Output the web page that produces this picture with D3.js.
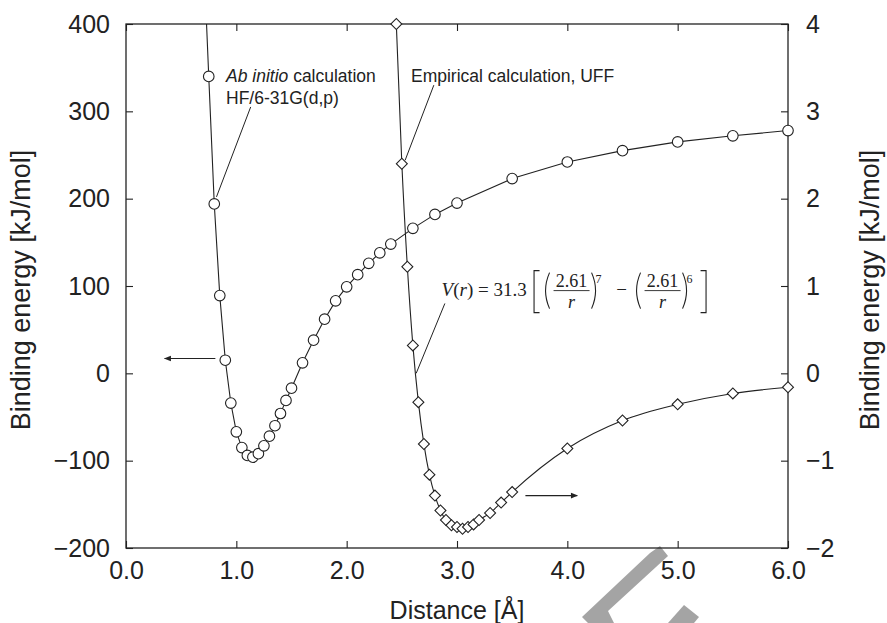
<!DOCTYPE html>
<html>
<head>
<meta charset="utf-8">
<script src="https://cdn.jsdelivr.net/npm/d3@7"></script>
<style>
  body { margin: 0; background: #fff; }
  svg { display: block; }
</style>
</head>
<body>
<div id="chart"></div>
<script>
// ab initio HF/6-31G(d,p), left axis [kJ/mol]
const abDist = [0.75, 0.80, 0.85, 0.90, 0.95, 1.00, 1.05, 1.10, 1.15, 1.20, 1.25, 1.30, 1.35, 1.40, 1.45,
  1.50, 1.60, 1.70, 1.80, 1.90, 2.00, 2.10, 2.20, 2.30, 2.40, 2.60, 2.80, 3.00, 3.50, 4.00, 4.50, 5.00, 5.50, 6.00];
const abEnergy = [340, 194, 89, 15, -34, -67, -85, -94, -96, -92, -83, -72, -60, -46, -31,
  -17, 12, 38, 62, 83, 99, 113, 126, 138, 148, 166, 182, 195, 223, 242, 255, 265, 272, 278];
// the ab initio line keeps going up past the first marker to the frame
const abLineLead = [0.73, 400];

// empirical UFF, right axis [kJ/mol]
const uffDist = [2.45, 2.50, 2.55, 2.60, 2.65, 2.70, 2.75, 2.80, 2.85, 2.90, 2.95, 3.00, 3.05, 3.10,
  3.15, 3.20, 3.30, 3.40, 3.50, 4.00, 4.50, 5.00, 5.50, 6.00];
const uffEnergy = [4.00, 2.40, 1.22, 0.32, -0.33, -0.81, -1.16, -1.40, -1.57, -1.68, -1.74, -1.76, -1.78, -1.76,
  -1.73, -1.68, -1.60, -1.48, -1.36, -0.86, -0.54, -0.355, -0.23, -0.16];

const xTicks = [0, 1, 2, 3, 4, 5, 6];
const leftTicks = [-200, -100, 0, 100, 200, 300, 400];
const rightTicks = [-2, -1, 0, 1, 2, 3, 4];

const width = 887, height = 623;
const margin = {top: 24, right: 99, bottom: 75, left: 126};
const ink = '#222';
const sans = 'Liberation Sans, Arial, Helvetica, sans-serif';
const serif = 'Liberation Serif, Times New Roman, serif';

const svg = d3.select('#chart').append('svg')
    .attr('width', width)
    .attr('height', height);

const x = d3.scaleLinear().domain([0, 6]).range([margin.left, width - margin.right]);
const yL = d3.scaleLinear().domain([-200, 400]).range([height - margin.bottom, margin.top]);
const yR = d3.scaleLinear().domain([-2, 4]).range([height - margin.bottom, margin.top]);

// watermark behind everything (bottom, grey chevron)
svg.append('g').attr('fill', '#a4a4a4')
  .selectAll('path')
  .data([
    'M650,553 L660,546 L668,556 L608,611 L614,623 L588,623 L582,617 Z',
    'M684,605 L699,617 L694,623 L668,623 Z'
  ])
  .join('path')
    .attr('d', d => d);

// ticks (inward) and labels
function styleAxis(g, size) {
  g.select('.domain').remove();
  g.selectAll('.tick line').attr('stroke', ink).attr('stroke-width', 1.1);
  g.selectAll('.tick text').attr('font-family', sans).attr('font-size', size).attr('fill', ink);
}

svg.append('g')
    .attr('transform', `translate(0,${height - margin.bottom})`)
    .call(d3.axisBottom(x).tickValues(xTicks).tickFormat(d3.format('.1f')).tickSize(-7).tickPadding(13))
    .call(g => styleAxis(g, 25));

svg.append('g')
    .attr('transform', `translate(0,${margin.top})`)
    .call(d3.axisTop(x).tickValues(xTicks).tickFormat('').tickSize(-7))
    .call(g => styleAxis(g, 25));

svg.append('g')
    .attr('transform', `translate(${margin.left},0)`)
    .call(d3.axisLeft(yL).tickValues(leftTicks).tickFormat(d3.format('d')).tickSize(-7).tickPadding(16))
    .call(g => styleAxis(g, 25));

svg.append('g')
    .attr('transform', `translate(${width - margin.right},0)`)
    .call(d3.axisRight(yR).tickValues(rightTicks).tickFormat(d3.format('d')).tickSize(-7).tickPadding(18))
    .call(g => styleAxis(g, 25));

// frame
svg.append('rect')
    .attr('x', margin.left).attr('y', margin.top)
    .attr('width', width - margin.left - margin.right)
    .attr('height', height - margin.top - margin.bottom)
    .attr('fill', 'none').attr('stroke', ink).attr('stroke-width', 1.3);

// axis titles
svg.append('text')
    .attr('x', (margin.left + width - margin.right) / 2).attr('y', 619)
    .attr('text-anchor', 'middle')
    .attr('font-family', sans).attr('font-size', 25).attr('fill', ink)
    .text('Distance [Å]');

svg.append('text')
    .attr('transform', 'translate(30,290) rotate(-90)')
    .attr('text-anchor', 'middle')
    .attr('font-family', sans).attr('font-size', 27).attr('fill', ink)
    .text('Binding energy [kJ/mol]');

svg.append('text')
    .attr('transform', 'translate(879,290) rotate(-90)')
    .attr('text-anchor', 'middle')
    .attr('font-family', sans).attr('font-size', 27).attr('fill', ink)
    .text('Binding energy [kJ/mol]');

// data
const abPts = abDist.map((d, i) => ({x: d, y: abEnergy[i]}));
const uffPts = uffDist.map((d, i) => ({x: d, y: uffEnergy[i]}));

const plot = svg.append('g');

plot.append('path')
    .datum([{x: abLineLead[0], y: abLineLead[1]}, ...abPts])
    .attr('fill', 'none').attr('stroke', ink).attr('stroke-width', 1.1)
    .attr('d', d3.line().x(d => x(d.x)).y(d => yL(d.y)));

plot.append('path')
    .datum(uffPts)
    .attr('fill', 'none').attr('stroke', ink).attr('stroke-width', 1.1)
    .attr('d', d3.line().curve(d3.curveMonotoneX).x(d => x(d.x)).y(d => yR(d.y)));

// pointer lines from labels to curves
const pointers = [
  [x(1.13), yL(305), x(0.82), yL(202)],
  [x(2.79), yR(3.30), x(2.53), yR(2.44)],
  [x(2.89), yR(0.80), x(2.63), yR(0.0)]
];
plot.selectAll('line.pointer')
  .data(pointers)
  .join('line')
    .attr('class', 'pointer')
    .attr('x1', d => d[0]).attr('y1', d => d[1])
    .attr('x2', d => d[2]).attr('y2', d => d[3])
    .attr('stroke', ink).attr('stroke-width', 1);

plot.selectAll('circle.ab')
  .data(abPts)
  .join('circle')
    .attr('class', 'ab')
    .attr('cx', d => x(d.x)).attr('cy', d => yL(d.y))
    .attr('r', 5.3)
    .attr('fill', '#fff').attr('stroke', ink).attr('stroke-width', 1.1);

const diamond = d3.symbol().type(d3.symbolSquare).size(60);
plot.selectAll('path.uff')
  .data(uffPts)
  .join('path')
    .attr('class', 'uff')
    .attr('transform', d => `translate(${x(d.x)},${yR(d.y)}) rotate(45)`)
    .attr('d', diamond)
    .attr('fill', '#fff').attr('stroke', ink).attr('stroke-width', 1.1);

// arrows telling which axis goes with which curve
svg.append('defs').append('marker')
    .attr('id', 'head')
    .attr('viewBox', '0 0 10 10')
    .attr('refX', 9).attr('refY', 5)
    .attr('markerWidth', 9).attr('markerHeight', 7)
    .attr('markerUnits', 'userSpaceOnUse')
    .attr('orient', 'auto')
  .append('path')
    .attr('d', 'M0,1 L10,5 L0,9 Z')
    .attr('fill', ink);

const arrows = [
  [x(0.81), yL(17), x(0.35), yL(17)],
  [x(3.62), yR(-1.40), x(4.09), yR(-1.40)]
];
svg.selectAll('line.arrow')
  .data(arrows)
  .join('line')
    .attr('class', 'arrow')
    .attr('x1', d => d[0]).attr('y1', d => d[1])
    .attr('x2', d => d[2]).attr('y2', d => d[3])
    .attr('stroke', ink).attr('stroke-width', 1.1)
    .attr('marker-end', 'url(#head)');

// labels
const lab1 = svg.append('text')
    .attr('x', 226).attr('y', 82)
    .attr('font-family', sans).attr('font-size', 17.5).attr('fill', ink);
lab1.append('tspan').attr('font-style', 'italic').text('Ab initio');
lab1.append('tspan').text(' calculation');
svg.append('text')
    .attr('x', 226).attr('y', 104)
    .attr('font-family', sans).attr('font-size', 17.5).attr('fill', ink)
    .text('HF/6-31G(d,p)');
svg.append('text')
    .attr('x', 411).attr('y', 82)
    .attr('font-family', sans).attr('font-size', 17.5).attr('fill', ink)
    .text('Empirical calculation, UFF');

// V(r) = 31.3 [ (2.61/r)^7 - (2.61/r)^6 ]
const fx = x(2.86), fy = yR(0.89);
const eq = svg.append('g')
    .attr('transform', `translate(${fx},${fy})`)
    .attr('font-family', serif).attr('fill', ink);

const lhs = eq.append('text').attr('x', 0).attr('y', 0).attr('font-size', 19);
lhs.append('tspan').attr('font-style', 'italic').text('V');
lhs.append('tspan').text('(');
lhs.append('tspan').attr('font-style', 'italic').text('r');
lhs.append('tspan').text(') = 31.3');

const strokes = eq.append('g').attr('fill', 'none').attr('stroke', ink).attr('stroke-width', 1.1);
// square brackets
strokes.append('path').attr('d', 'M98,-25 H92.5 V17 H98');
strokes.append('path').attr('d', 'M259,-25 H264.5 V17 H259');
// parentheses and fraction bars, one set per term
[[102, 150, '7'], [193, 241, '6']].forEach(([l, r, pow]) => {
  strokes.append('path').attr('d', `M${l + 6},-23 Q${l - 2},-5 ${l + 6},13`);
  strokes.append('path').attr('d', `M${r},-23 Q${r + 8},-5 ${r},13`);
  strokes.append('line')
      .attr('x1', l + 10).attr('x2', r - 2).attr('y1', -5).attr('y2', -5)
      .attr('stroke-width', 0.9);
  eq.append('text')
      .attr('x', (l + r + 8) / 2).attr('y', -9)
      .attr('text-anchor', 'middle').attr('font-size', 18)
      .text('2.61');
  eq.append('text')
      .attr('x', (l + r + 8) / 2).attr('y', 12)
      .attr('text-anchor', 'middle').attr('font-size', 18).attr('font-style', 'italic')
      .text('r');
  eq.append('text')
      .attr('x', r + 4).attr('y', -13)
      .attr('font-size', 12)
      .text(pow);
});
eq.append('text')
    .attr('x', 180).attr('y', 0)
    .attr('text-anchor', 'middle').attr('font-size', 19)
    .text('−');
</script>
</body>
</html>
